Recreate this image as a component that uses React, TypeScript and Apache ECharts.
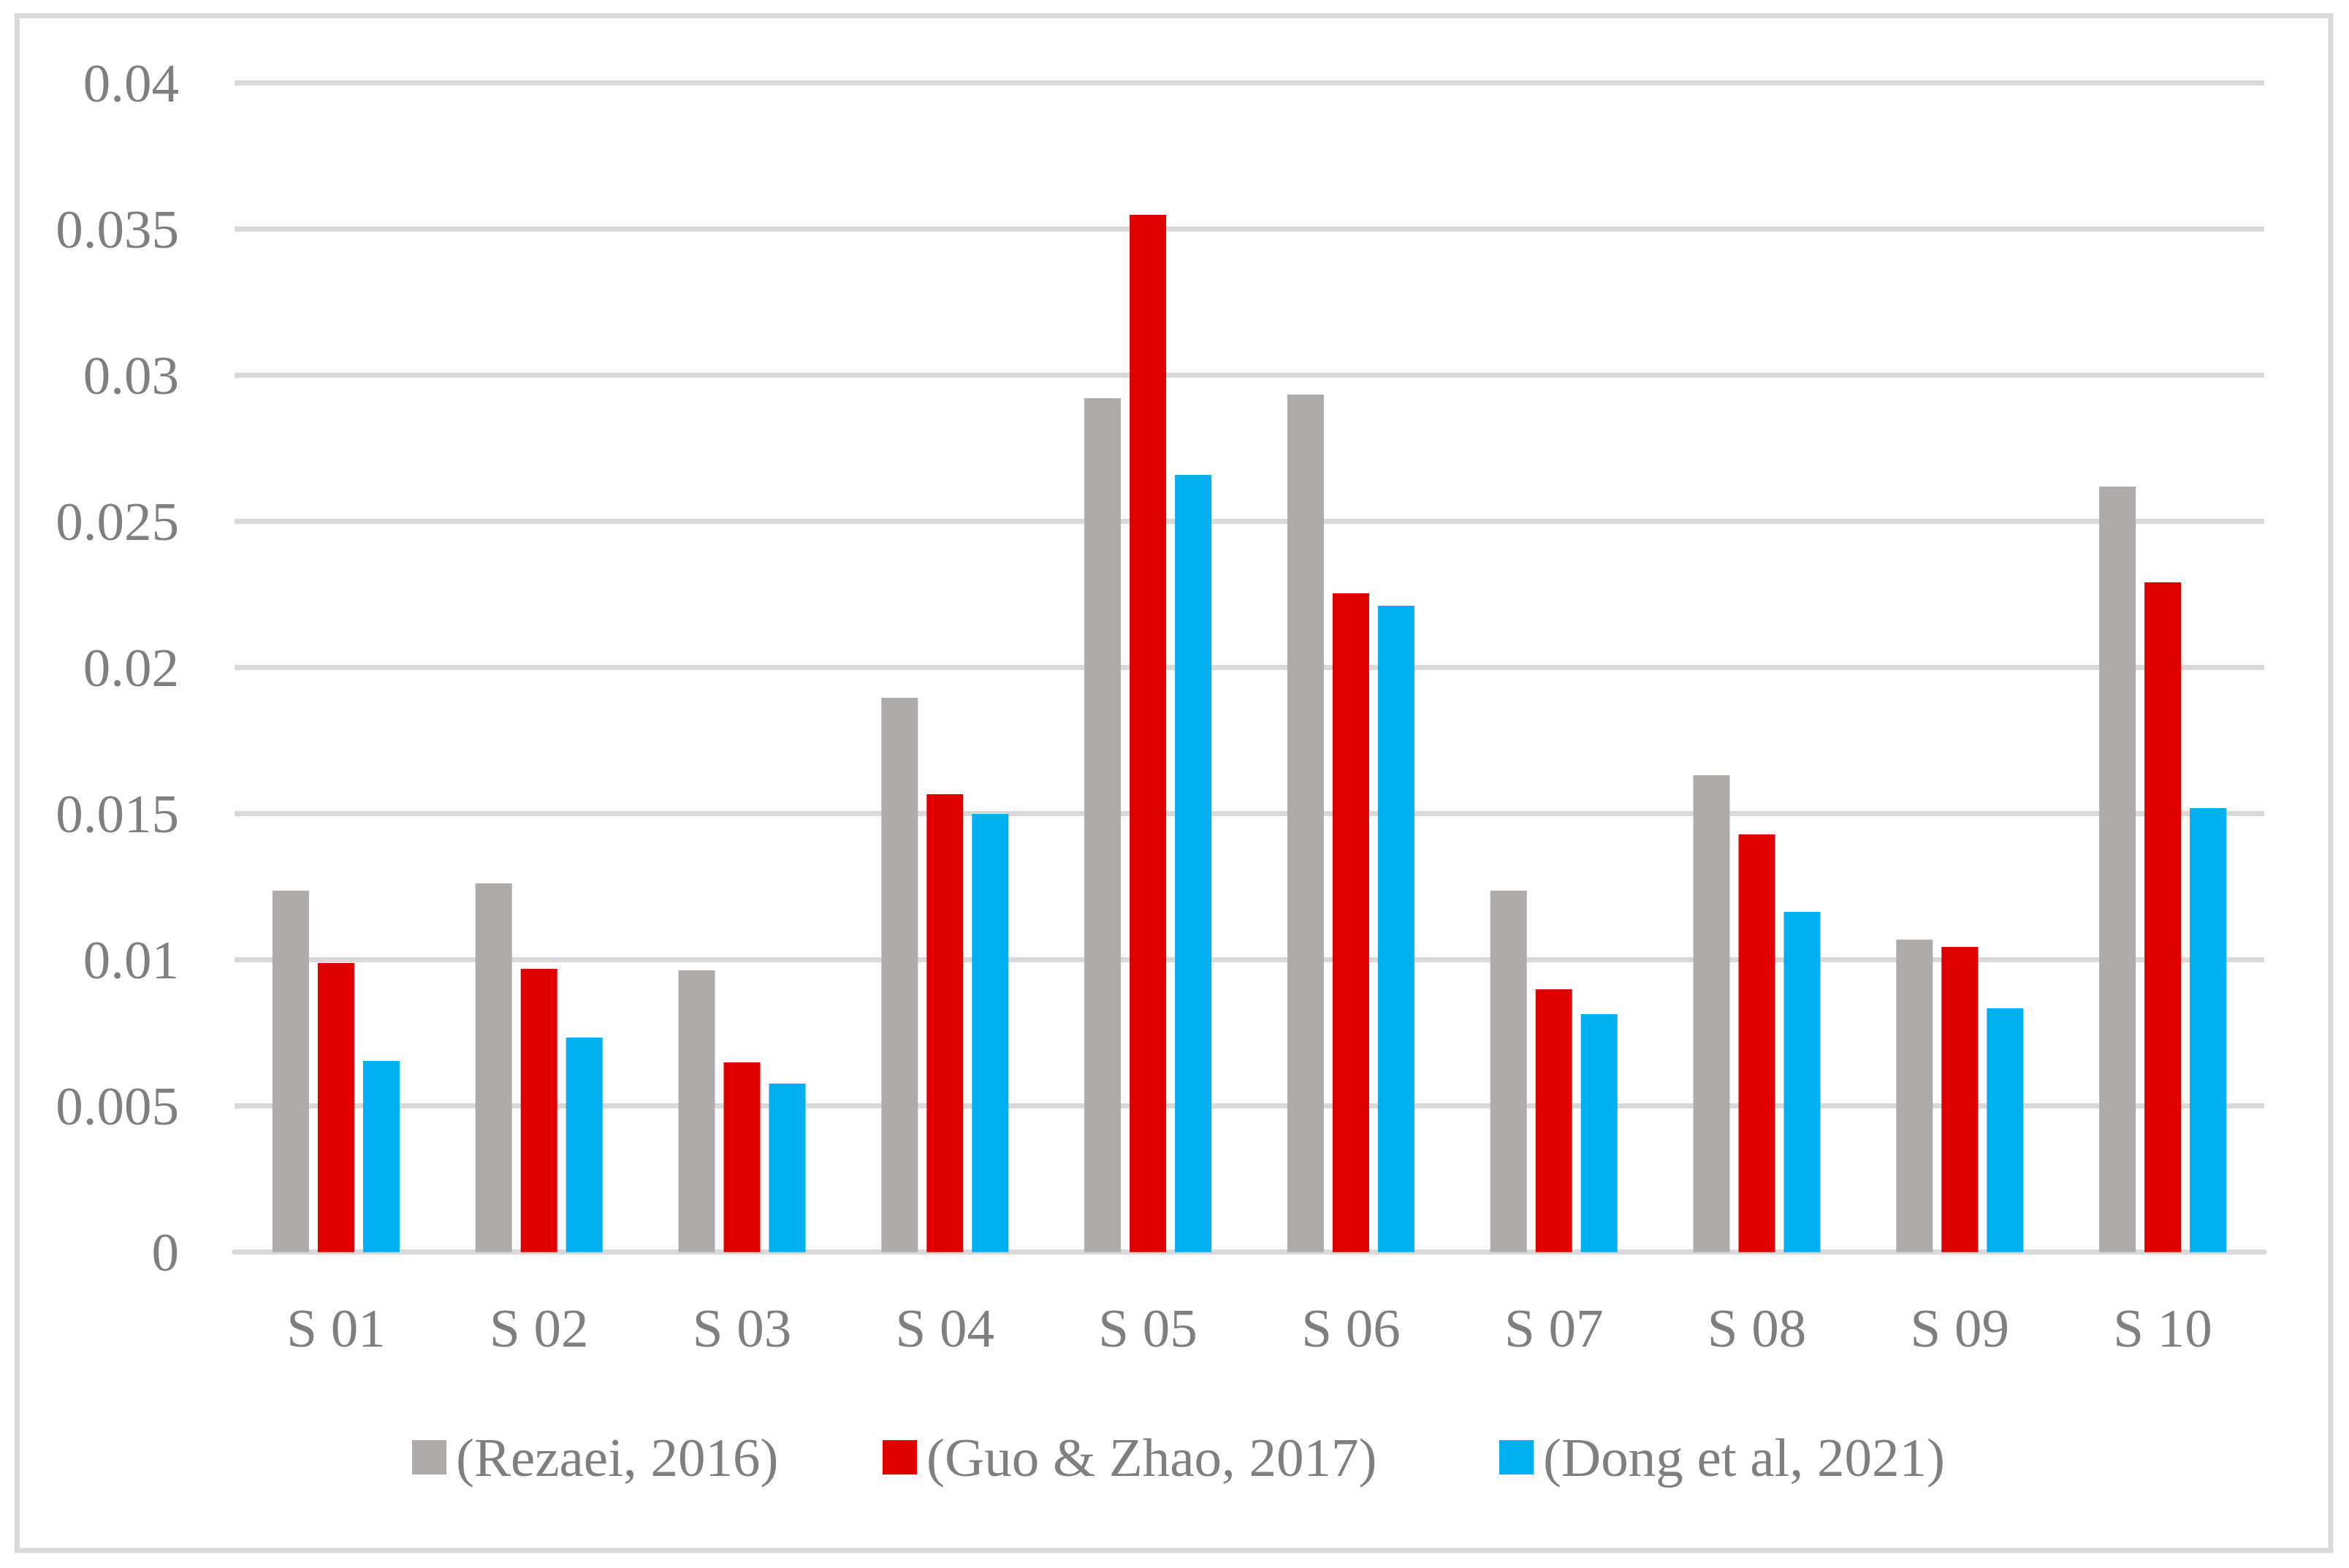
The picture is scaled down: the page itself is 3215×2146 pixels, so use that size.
import React, { useEffect, useRef } from "react";
import * as echarts from "echarts";

const categories = ["S 01", "S 02", "S 03", "S 04", "S 05", "S 06", "S 07", "S 08", "S 09", "S 10"];
const seriesNames = ["(Rezaei, 2016)", "(Guo & Zhao, 2017)", "(Dong et al, 2021)"];
const rezaei = [0.01237, 0.01262, 0.00964, 0.01897, 0.02922, 0.02934, 0.01237, 0.01632, 0.01069, 0.02619];
const guoZhao = [0.00989, 0.00969, 0.00649, 0.01567, 0.03549, 0.02254, 0.00899, 0.01429, 0.01044, 0.02292];
const dong = [0.00654, 0.00734, 0.00577, 0.01499, 0.02659, 0.02212, 0.00814, 0.01164, 0.00834, 0.01519];
const colors = ["#AFABAB", "#E00000", "#00B0F0"];
const yTicks = { min: 0, max: 0.04, interval: 0.005 };
const legendLefts = [559, 1203, 2047];

const FONT = "'Liberation Serif', 'Times New Roman', serif";
const TEXT_COLOR = "#7F7F7F";
const GRID_COLOR = "#D9D9D9";

export default function App() {
  const ref = useRef<HTMLDivElement>(null);
  useEffect(() => {
    if (!ref.current) return;
    const chart = echarts.init(ref.current, undefined, { renderer: "svg" });
    const values = [rezaei, guoZhao, dong];
    chart.setOption({
      animation: false,
      backgroundColor: "#FFFFFF",
      textStyle: { fontFamily: FONT },
      graphic: [
        {
          type: "rect",
          shape: { x: 23.5, y: 21.5, width: 3166.5, height: 2100.5 },
          style: { fill: "none", stroke: GRID_COLOR, lineWidth: 7 },
          silent: true,
        },
      ],
      grid: { left: 321, right: 116, top: 113.7, bottom: 432.3, containLabel: false },
      legend: seriesNames.map((name, i) => ({
        left: legendLefts[i],
        top: 1952,
        icon: "rect",
        itemWidth: 47,
        itemHeight: 47,
        textStyle: { fontFamily: FONT, fontSize: 75, color: TEXT_COLOR, padding: [0, 0, 0, 8] },
        data: [name],
      })),
      xAxis: {
        type: "category",
        data: categories,
        axisLine: { show: true, lineStyle: { color: GRID_COLOR, width: 7 } },
        axisTick: { show: false },
        axisLabel: { fontFamily: FONT, fontSize: 75, color: TEXT_COLOR, margin: 66 },
        splitLine: { show: false },
      },
      yAxis: {
        type: "value",
        min: yTicks.min,
        max: yTicks.max,
        interval: yTicks.interval,
        axisLine: { show: false },
        axisTick: { show: false },
        axisLabel: { fontFamily: FONT, fontSize: 75, color: TEXT_COLOR, margin: 76 },
        splitLine: { show: true, lineStyle: { color: GRID_COLOR, width: 7 } },
      },
      series: seriesNames.map((name, i) => ({
        name,
        type: "bar",
        data: values[i],
        barWidth: 50,
        barGap: "24%",
        itemStyle: { color: colors[i] },
      })),
    });
    return () => chart.dispose();
  }, []);
  return (
    <div
      ref={ref}
      style={{ position: "fixed", left: 0, top: 0, width: 3215, height: 2146, background: "#fff" }}
    />
  );
}
